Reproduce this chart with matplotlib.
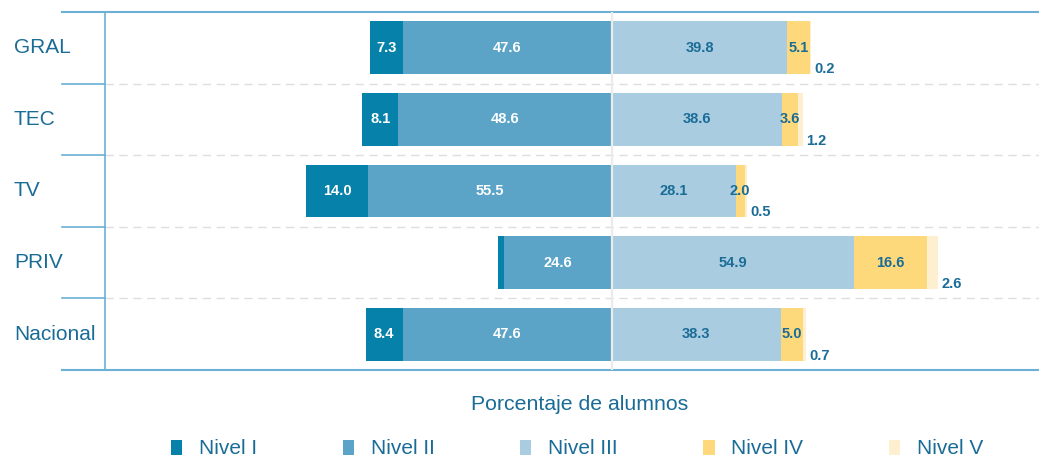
import numpy as np
import matplotlib.pyplot as plt
from matplotlib.patches import Patch
from matplotlib.transforms import blended_transform_factory

plt.rcParams['font.family'] = ['Liberation Sans', 'DejaVu Sans']

categories = ["GRAL", "TEC", "TV", "PRIV", "Nacional"]
nivel_1 = [7.3, 8.1, 14.0, 1.3, 8.4]
nivel_2 = [47.6, 48.6, 55.5, 24.6, 47.6]
nivel_3 = [39.8, 38.6, 28.1, 54.9, 38.3]
nivel_4 = [5.1, 3.6, 2.0, 16.6, 5.0]
nivel_5 = [0.2, 1.2, 0.5, 2.6, 0.7]
level_names = ["Nivel I", "Nivel II", "Nivel III", "Nivel IV", "Nivel V"]

colors = ["#0682aa", "#5ba4c7", "#a9cce0", "#fed97c", "#feefd0"]
text_blue = "#1a6c97"
line_blue = "#6cb0d6"

fig = plt.figure(figsize=(10.39, 4.59), dpi=100)
ax = fig.add_axes([105 / 1039, 1 - 370 / 459, 934 / 1039, 358 / 459])

y = np.arange(len(categories))
h = 0.74
n1 = np.array(nivel_1)
n2 = np.array(nivel_2)
n3 = np.array(nivel_3)
n4 = np.array(nivel_4)
n5 = np.array(nivel_5)

# left side (negative)
ax.barh(y, -n2, height=h, color=colors[1])
ax.barh(y, -n1, left=-n2, height=h, color=colors[0])
# right side
ax.barh(y, n3, height=h, color=colors[2])
ax.barh(y, n4, left=n3, height=h, color=colors[3])
ax.barh(y, n5, left=n3 + n4, height=h, color=colors[4])

ax.axvline(0, color="#ebebeb", lw=1.6, zorder=3)

lab = dict(fontsize=10.5, fontweight="bold", va="center", ha="center", zorder=4)
for i in range(len(categories)):
    if n1[i] >= 3:
        ax.text(-n2[i] - n1[i] / 2, y[i], f"{n1[i]:.1f}", color="white", **lab)
    ax.text(-n2[i] / 2, y[i], f"{n2[i]:.1f}", color="white", **lab)
    ax.text(n3[i] / 2, y[i], f"{n3[i]:.1f}", color=text_blue, **lab)
    ax.text(n3[i] + n4[i] / 2, y[i], f"{n4[i]:.1f}", color=text_blue, **lab)
    ax.text(n3[i] + n4[i] + n5[i] + 0.8, y[i] + 0.3, f"{n5[i]:.1f}",
            color=text_blue, fontsize=10.5, fontweight="bold", va="center", ha="left")

ax.set_xlim(-115.2, 97)
ax.set_ylim(len(categories) - 0.5, -0.5)

for s in ["top", "right", "bottom"]:
    ax.spines[s].set_visible(False)
ax.spines["left"].set_color(line_blue)
ax.spines["left"].set_linewidth(1.2)
ax.set_xticks([])
ax.set_yticks([])

tr = blended_transform_factory(ax.transAxes, ax.transData)
x0 = -43 / 934
for b in y[:-1] + 0.5:
    ax.plot([0, 1], [b, b], transform=tr, color="#dedede", lw=1, ls=(0, (6, 4)), clip_on=False, zorder=0)
    ax.plot([x0, 0], [b, b], transform=tr, color=line_blue, lw=1.2, clip_on=False)
for b in [-0.5, len(categories) - 0.5]:
    ax.plot([x0, 1], [b, b], transform=tr, color=line_blue, lw=1.5, clip_on=False)

for i, c in enumerate(categories):
    ax.text(-91 / 934, y[i], c, transform=tr, ha="left", va="center",
            fontsize=15, color=text_blue)

fig.text(580 / 1039, 1 - 405 / 459, "Porcentaje de alumnos", ha="center", va="center",
         fontsize=15.3, color=text_blue)

handles = [Patch(facecolor=c, edgecolor="none") for c in colors]
leg = fig.legend(handles, level_names, loc="center", bbox_to_anchor=(577 / 1039, 1 - 449 / 459),
                 ncol=5, frameon=False, fontsize=15, handlelength=0.55, handleheight=0.75,
                 handletextpad=0.8, columnspacing=4.1)
for t in leg.get_texts():
    t.set_color(text_blue)

fig.savefig("out.png", dpi=100)
